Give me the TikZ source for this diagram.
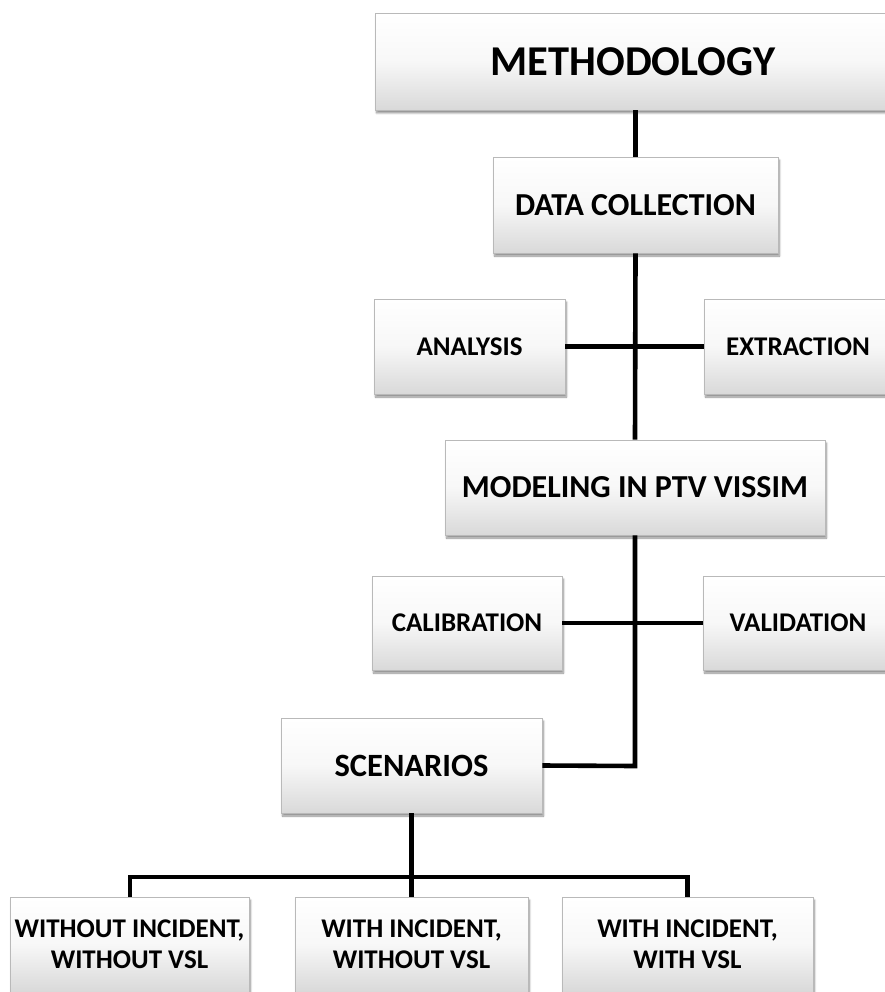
\documentclass[tikz,border=0pt]{standalone}
\usepackage{fontspec}
\setmainfont{Carlito}
\usetikzlibrary{shadows.blur}
\tikzset{
  box/.style={rectangle, draw=gray!55, line width=0.8pt, top color=white, bottom color=gray!30, middle color=gray!6,
    blur shadow={shadow xshift=1.5pt, shadow yshift=-3pt, shadow blur steps=6, shadow opacity=45},
    align=center, font=\bfseries, inner sep=0pt, text=black},
  conn/.style={line width=4.6pt, black, line join=miter},
}
\begin{document}
\begin{tikzpicture}[x=1pt,y=1pt]
\useasboundingbox (0,0) rectangle (885,-992);
\node[box, minimum width=516pt, minimum height=97pt, font=\bfseries\fontsize{42.5}{48}\selectfont] (meth) at (633,-61.5) {METHODOLOGY};
\node[box, minimum width=285pt, minimum height=96pt, font=\bfseries\fontsize{32}{36}\selectfont] (dc) at (635.5,-205) {DATA COLLECTION};
\node[box, minimum width=191pt, minimum height=95pt, font=\bfseries\fontsize{27}{31}\selectfont] (an) at (469.5,-346.5) {ANALYSIS};
\node[box, minimum width=188pt, minimum height=95pt, font=\bfseries\fontsize{27}{31}\selectfont] (ex) at (798,-346.5) {EXTRACTION};
\node[box, minimum width=380pt, minimum height=95pt, font=\bfseries\fontsize{32}{36}\selectfont] (mod) at (635,-487.5) {MODELING IN PTV VISSIM};
\node[box, minimum width=190pt, minimum height=94pt, font=\bfseries\fontsize{27}{31}\selectfont] (cal) at (467,-623) {CALIBRATION};
\node[box, minimum width=190pt, minimum height=94pt, font=\bfseries\fontsize{27}{31}\selectfont] (val) at (798,-623) {VALIDATION};
\node[box, minimum width=261pt, minimum height=95pt, font=\bfseries\fontsize{32.5}{36}\selectfont] (sc) at (411.5,-765.5) {SCENARIOS};
\node[box, minimum width=239pt, minimum height=95pt, font=\bfseries\fontsize{27}{31}\selectfont] (b1) at (129.5,-944.5) {WITHOUT INCIDENT,\\WITHOUT VSL};
\node[box, minimum width=233pt, minimum height=95pt, font=\bfseries\fontsize{27}{31}\selectfont] (b2) at (411.5,-944.5) {WITH INCIDENT,\\WITHOUT VSL};
\node[box, minimum width=251pt, minimum height=95pt, font=\bfseries\fontsize{27}{31}\selectfont] (b3) at (687.5,-944.5) {WITH INCIDENT,\\WITH VSL};
\coordinate (m1) at (635,-766);
\coordinate (s1) at (411.5,-877);
\coordinate (sl) at (130,-877);
\coordinate (sr) at (687.5,-877);
\draw[conn] (meth.south -| dc.north) -- (dc.north);
\draw[conn] (dc.south) -- (mod.north);
\draw[conn] (an.east) -- (ex.west);
\draw[conn] (cal.east) -- (val.west);
\draw[conn] (mod.south) -- (m1) -- (sc.east);
\draw[conn] (sc.south) -- (s1) -- (b2.north);
\draw[conn] (sl |- b1.north) -- (sl) -- (sr) -- (b3.north);
\end{tikzpicture}
\end{document}
